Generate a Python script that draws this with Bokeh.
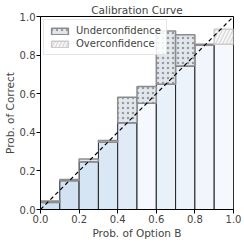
from bokeh.plotting import figure
from bokeh.models import Range1d, Legend, LegendItem, FixedTicker, ColumnDataSource
from bokeh.embed import file_html
from bokeh.resources import INLINE

# ---- data ----
bin_left = [0.0, 0.1, 0.2, 0.3, 0.4, 0.5, 0.6, 0.7, 0.8, 0.9]
bin_right = [0.1, 0.2, 0.3, 0.4, 0.5, 0.6, 0.7, 0.8, 0.9, 1.0]
accuracy = [0.036, 0.149, 0.247, 0.348, 0.449, 0.551, 0.649, 0.743, 0.851, 0.856]
confidence = [0.044, 0.156, 0.262, 0.358, 0.582, 0.637, 0.925, 0.906, 0.856, 0.934]
gap_kind = ["Underconfidence"] * 9 + ["Overconfidence"]
bar_colors = ["#cddff2", "#d2e2f3", "#d6e5f4", "#dae8f5", "#e0ebf7",
              "#f5f8fc", "#e8f0f9", "#edf3fa", "#f2f6fc", "#f5f8fd"]
ticks = [0.0, 0.2, 0.4, 0.6, 0.8, 1.0]
diag_x = [0.0, 1.0]
diag_y = [0.0, 1.0]

FONT = "DejaVu Sans"

p = figure(frame_width=193, frame_height=193, output_backend="svg", toolbar_location=None,
           x_range=Range1d(0, 1), y_range=Range1d(0, 1),
           min_border_left=0, min_border_right=10, min_border_top=0, min_border_bottom=0,
           title="Calibration Curve")
p.title.align = "center"
p.title.text_font = FONT
p.title.text_font_size = "10.5px"
p.title.text_font_style = "normal"
p.title.standoff = 2
p.title.offset = 0

p.xgrid.visible = False
p.ygrid.visible = False
p.outline_line_color = "black"
p.outline_line_width = 1

# accuracy bars
src = ColumnDataSource(dict(left=bin_left, right=bin_right, top=accuracy, color=bar_colors))
p.quad(left="left", right="right", bottom=0, top="top", source=src,
       fill_color="color", line_color="#222222", line_width=1)

# gap bars
under_idx = [i for i, k in enumerate(gap_kind) if k == "Underconfidence"]
over_idx = [i for i, k in enumerate(gap_kind) if k == "Overconfidence"]

under_src = ColumnDataSource(dict(left=[bin_left[i] for i in under_idx],
                                  right=[bin_right[i] for i in under_idx],
                                  bottom=[accuracy[i] for i in under_idx],
                                  top=[confidence[i] for i in under_idx]))
over_src = ColumnDataSource(dict(left=[bin_left[i] for i in over_idx],
                                 right=[bin_right[i] for i in over_idx],
                                 bottom=[accuracy[i] for i in over_idx],
                                 top=[confidence[i] for i in over_idx]))

r_under = p.quad(left="left", right="right", bottom="bottom", top="top", source=under_src,
                 fill_color="#e1e7ee", line_color="#8c8c8c", line_width=1.5,
                 hatch_pattern="dot", hatch_color="#9a9a9a", hatch_scale=5, hatch_weight=0.8)
r_over = p.quad(left="left", right="right", bottom="bottom", top="top", source=over_src,
                fill_color="#f6f6f6", line_color="#cccccc", line_width=1.5,
                hatch_pattern="right_diagonal_line", hatch_color="#d0d0d0",
                hatch_scale=7, hatch_weight=1)

# diagonal
p.line(diag_x, diag_y, line_color="black", line_dash="4 3", line_width=1.2)

legend = Legend(items=[LegendItem(label="Underconfidence", renderers=[r_under]),
                       LegendItem(label="Overconfidence", renderers=[r_over])],
                location="top_left")
legend.label_text_font = FONT
legend.label_text_font_size = "10px"
legend.glyph_width = 21
legend.glyph_height = 8
legend.label_standoff = 6
legend.spacing = 2
legend.padding = 5
legend.margin = 3
legend.label_height = 11
legend.border_line_color = "#cccccc"
legend.background_fill_alpha = 0.85
p.add_layout(legend)

for ax in (p.xaxis, p.yaxis):
    ax.ticker = FixedTicker(ticks=ticks)
    ax.minor_tick_line_color = None
    ax.major_tick_in = 0
    ax.major_tick_out = 4
    ax.major_label_text_font = FONT
    ax.major_label_text_font_size = "10px"
    ax.axis_label_text_font = FONT
    ax.axis_label_text_font_size = "10.5px"
    ax.axis_label_text_font_style = "normal"
    ax.axis_line_color = "black"
    ax.major_tick_line_color = "black"
    ax.major_label_standoff = 1
    ax.axis_label_standoff = 1

p.xaxis.axis_label = "Prob. of Option B"
p.yaxis.axis_label = "Prob. of Correct"
p.xaxis.major_label_overrides = {t: f"{t:.1f}" for t in ticks}
p.yaxis.major_label_overrides = {t: f"{t:.1f}" for t in ticks}

open("out.html", "w").write(file_html(p, INLINE))
